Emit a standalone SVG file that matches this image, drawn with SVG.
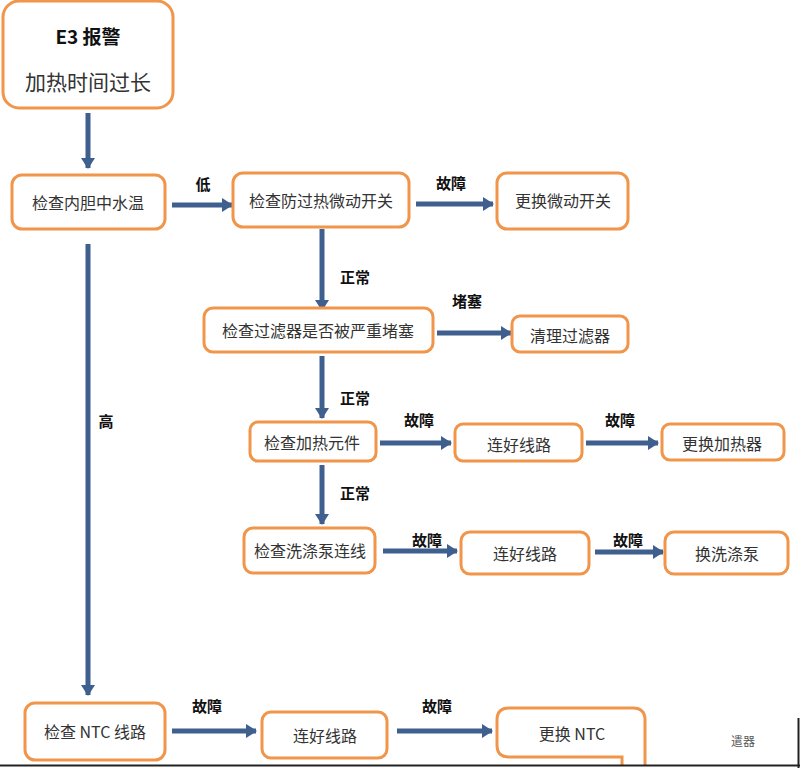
<svg xmlns="http://www.w3.org/2000/svg" width="800" height="768" viewBox="0 0 800 768">
<defs>
<style>
.box{fill:#fff;stroke:#F0954A;stroke-width:3}
.t{font-family:"Noto Sans CJK SC","Liberation Sans",sans-serif;font-size:16px;fill:#333;text-anchor:middle;dominant-baseline:central}
.l{font-family:"Noto Sans CJK SC","Liberation Sans",sans-serif;font-size:15px;font-weight:bold;fill:#111;text-anchor:middle;dominant-baseline:central}
.c{stroke:#3F5F8E;stroke-width:5;fill:none;marker-end:url(#ah)}
</style>
<marker id="ah" markerUnits="userSpaceOnUse" markerWidth="12" markerHeight="14" refX="10" refY="7" orient="auto">
<path d="M0,0 L11,7 L0,14 Z" fill="#3F5F8E"/>
</marker>
</defs>
<rect width="800" height="768" fill="#fff"/>
<g id="connectors">
<line class="c" x1="88" y1="113" x2="88" y2="168"/>
<line class="c" x1="172" y1="205" x2="232" y2="205"/>
<line class="c" x1="416" y1="204" x2="493" y2="204"/>
<line class="c" x1="322" y1="229" x2="322" y2="310"/>
<line class="c" x1="437" y1="333" x2="511" y2="333"/>
<line class="c" x1="322" y1="356" x2="322" y2="418"/>
<line class="c" x1="380" y1="443" x2="451" y2="443"/>
<line class="c" x1="586" y1="443" x2="658" y2="443"/>
<line class="c" x1="322" y1="465" x2="322" y2="524"/>
<line class="c" x1="383" y1="551" x2="457" y2="551"/>
<line class="c" x1="595" y1="552" x2="663" y2="552"/>
<line class="c" x1="88" y1="244" x2="88" y2="695"/>
<line class="c" x1="172" y1="731" x2="256" y2="731"/>
<line class="c" x1="397" y1="731" x2="492" y2="731"/>
<text class="l" x="203" y="183">低</text>
<text class="l" x="451" y="182">故障</text>
<text class="l" x="355" y="276">正常</text>
<text class="l" x="467" y="300">堵塞</text>
<text class="l" x="355" y="397">正常</text>
<text class="l" x="419" y="419">故障</text>
<text class="l" x="620" y="419">故障</text>
<text class="l" x="355" y="492">正常</text>
<text class="l" x="427" y="539">故障</text>
<text class="l" x="628" y="539">故障</text>
<text class="l" x="106" y="420">高</text>
<text class="l" x="207" y="705">故障</text>
<text class="l" x="437" y="705">故障</text>
</g>
<g id="n1"><rect class="box" x="3" y="1" width="170" height="107" rx="16"/>
<text class="l" x="88" y="35" style="font-size:19px">E3 报警</text>
<text class="t" x="88" y="81" style="font-size:21px">加热时间过长</text></g>
<g id="n2"><rect class="box" x="12" y="175" width="153" height="54" rx="10"/><text class="t" x="88" y="202">检查内胆中水温</text></g>
<g id="n3"><rect class="box" x="233" y="173" width="176" height="54" rx="10"/><text class="t" x="321" y="200">检查防过热微动开关</text></g>
<g id="n4"><rect class="box" x="497" y="173" width="131" height="56" rx="10"/><text class="t" x="563" y="200">更换微动开关</text></g>
<g id="n5"><rect class="box" x="204" y="308" width="229" height="44" rx="9"/><text class="t" x="318" y="330">检查过滤器是否被严重堵塞</text></g>
<g id="n6"><rect class="box" x="512" y="316" width="116" height="36" rx="8"/><text class="t" x="570" y="335">清理过滤器</text></g>
<g id="n7"><rect class="box" x="250" y="422" width="126" height="39" rx="8"/><text class="t" x="312" y="442">检查加热元件</text></g>
<g id="n8"><rect class="box" x="455" y="424" width="127" height="37" rx="8"/><text class="t" x="519" y="444">连好线路</text></g>
<g id="n9"><rect class="box" x="662" y="424" width="122" height="36" rx="8"/><text class="t" x="722" y="443">更换加热器</text></g>
<g id="n10"><rect class="box" x="244" y="528" width="131" height="45" rx="9"/><text class="t" x="310" y="550">检查洗涤泵连线</text></g>
<g id="n11"><rect class="box" x="461" y="532" width="128" height="42" rx="9"/><text class="t" x="525" y="553">连好线路</text></g>
<g id="n12"><rect class="box" x="665" y="532" width="123" height="42" rx="9"/><text class="t" x="727" y="553">换洗涤泵</text></g>
<g id="n13"><rect class="box" x="25" y="703" width="140" height="57" rx="10"/><text class="t" x="95" y="731">检查 NTC 线路</text></g>
<g id="n14"><rect class="box" x="262" y="712" width="125" height="46" rx="9"/><text class="t" x="325" y="735">连好线路</text></g>
<g id="n15"><path class="box" d="M622,766 V757 H509 Q497,757 497,745 V720 Q497,708 509,708 H633 Q645,708 645,720 V766"/><text class="t" x="572" y="733">更换 NTC</text></g>
<text x="743" y="746" style="font-family:'Noto Sans CJK SC',serif;font-size:12px;fill:#555;text-anchor:middle">遣器</text>
<line x1="0" y1="765.5" x2="800" y2="765.5" stroke="#222" stroke-width="2"/>
<line x1="798.5" y1="718" x2="798.5" y2="768" stroke="#222" stroke-width="2"/>
</svg>
